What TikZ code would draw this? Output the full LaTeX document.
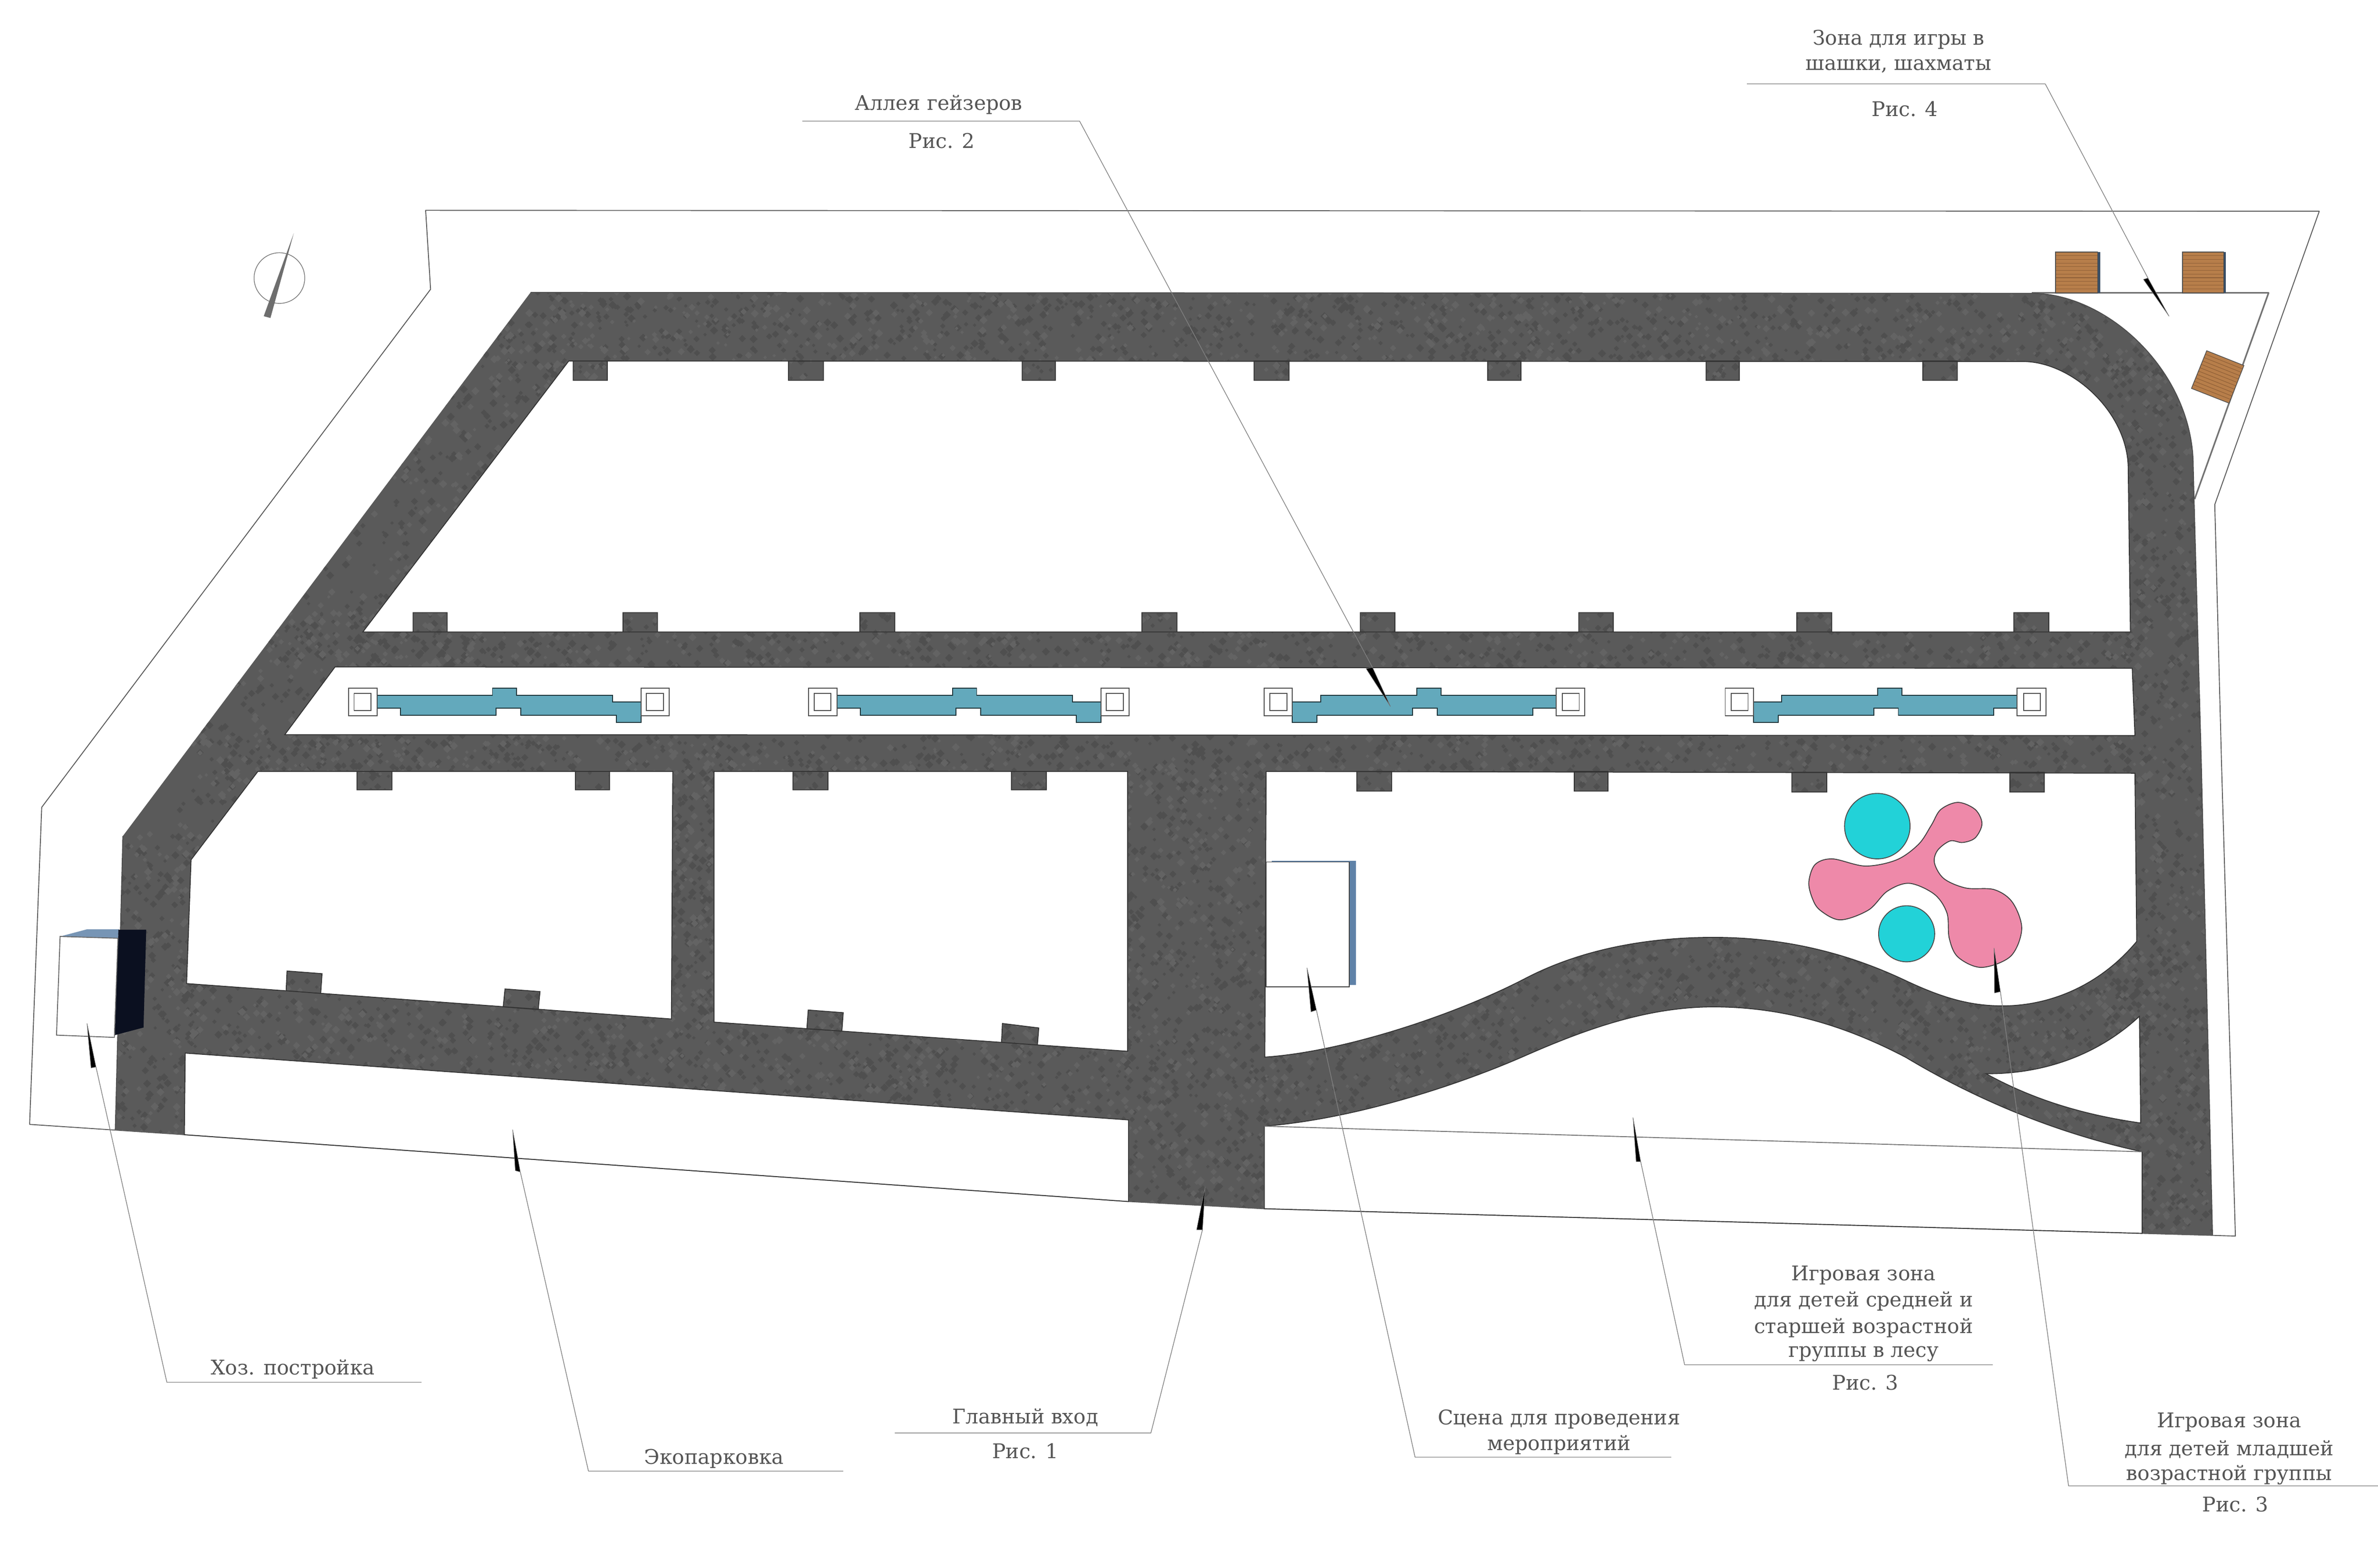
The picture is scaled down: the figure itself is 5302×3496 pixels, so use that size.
\documentclass[tikz,border=0pt]{standalone}
\usepackage{fontspec}
\setmainfont{DejaVu Serif}
\usetikzlibrary{calc}
\definecolor{asph}{HTML}{5A5A5A}
\definecolor{asphD}{HTML}{4F4F4F}
\definecolor{asphL}{HTML}{636363}
\definecolor{txtc}{HTML}{555555}
\definecolor{wood}{HTML}{B77E4A}
\definecolor{woodL}{HTML}{8E5F37}
\definecolor{water}{HTML}{63A9BC}
\definecolor{pinkz}{HTML}{EE89A9}
\definecolor{cyanz}{HTML}{22D2D8}
\definecolor{blueb}{HTML}{5F82A8}
\definecolor{shadowd}{HTML}{0B1020}
\tikzset{
  site/.style={draw=black!65,line width=2pt,line join=round},
  isl/.style={fill=white,draw=black!80,line width=2pt,even odd rule,line join=miter},
  lead/.style={draw=black!50,line width=1.5pt,line join=round},
  wedge/.style={fill=black,draw=black!55,line width=1pt,line join=round},
  lbl/.style={text=txtc,font=\fontsize{45}{58}\selectfont,align=center,inner sep=0pt,yshift=-3pt},
  lamp/.style={fill=white,draw=black!70,line width=2pt},
}
\newcommand{\woodquad}[4]{%
  \fill[wood] #1 -- #2 -- #3 -- #4 -- cycle;
  \foreach \t in {0.09,0.18,...,0.95}{
    \draw[woodL,line width=1.2pt] ($#1!\t!#4$) -- ($#2!\t!#3$);
  }
  \draw[black!70,line width=1.5pt] #1 -- #2 -- #3 -- #4 -- cycle;
}
\newcommand{\geyser}{%
  \draw[fill=water,draw=black!70!water,line width=2pt]
    (-293.5,1550) -- (-36.5,1550) -- (-36.5,1534) -- (17.5,1534) -- (17.5,1550) -- (231.5,1550)
    -- (231.5,1565) -- (294.5,1565) -- (294.5,1611) -- (239.5,1611) -- (239.5,1595) -- (26.5,1595)
    -- (26.5,1579) -- (-28.5,1579) -- (-28.5,1595) -- (-241.5,1595) -- (-241.5,1579) -- (-293.5,1579) -- cycle;
  \draw[lamp] (-357.5,1534) rectangle (-293.5,1596);
  \draw[lamp] (-345,1546.5) rectangle (-307.5,1584);
  \draw[lamp] (294.5,1534) rectangle (357.5,1596);
  \draw[lamp] (306.5,1546.5) rectangle (344.5,1584);
}
% speckled asphalt: small random diamonds, filled in batches
\newcount\blobA \newcount\blobB
\newcommand{\blobs}[5]{%
  \blobA=0 \blobB=0
  \loop\ifnum\blobA<#5\relax
    \advance\blobA by 1
    \advance\blobB by 1
    \pgfmathrandominteger\rx{#1}{#2}%
    \pgfmathrandominteger\ry{#3}{#4}%
    \pgfmathrandominteger\rr{4}{9}%
    \pgfpathmoveto{\pgfqpoint{\the\numexpr\rx-\rr\relax pt}{-\ry pt}}%
    \pgfpathlineto{\pgfqpoint{\rx pt}{-\the\numexpr\ry-\rr\relax pt}}%
    \pgfpathlineto{\pgfqpoint{\the\numexpr\rx+\rr\relax pt}{-\ry pt}}%
    \pgfpathlineto{\pgfqpoint{\rx pt}{-\the\numexpr\ry+\rr\relax pt}}%
    \pgfpathclose
    \ifnum\blobB=40 \pgfusepath{fill}\blobB=0 \fi
  \repeat
  \pgfusepath{fill}%
}
\newcommand{\allspecks}[1]{%
  \blobs{1100}{4900}{650}{850}{\numexpr 19*#1\relax}%
  \blobs{4700}{4940}{800}{2760}{\numexpr 12*#1\relax}%
  \blobs{600}{4760}{1366}{1490}{\numexpr 13*#1\relax}%
  \blobs{500}{4770}{1636}{1766}{\numexpr 13*#1\relax}%
  \blobs{2510}{2825}{1720}{2700}{\numexpr 8*#1\relax}%
  \blobs{250}{430}{1860}{2530}{\numexpr 3*#1\relax}%
  \blobs{400}{1280}{650}{1900}{\numexpr 16*#1\relax}%
  \blobs{410}{2520}{2165}{2500}{\numexpr 18*#1\relax}%
  \blobs{2820}{4780}{2090}{2570}{\numexpr 24*#1\relax}%
  \blobs{1495}{1595}{1720}{2290}{\numexpr 2*#1\relax}%
}
\begin{document}
\begin{tikzpicture}[x=1pt,y=-1pt]
\useasboundingbox (0,0) rectangle (5302,3496);
\fill[white] (0,0) rectangle (5302,3496);

% site boundary
\draw[site] (949,469) -- (960,645) -- (93,1800) -- (66,2507) -- (411,2530) -- (2516,2679) -- (2816,2695)
  -- (4775,2750) -- (4984,2756) -- (4953,1700) -- (4938,1125) -- (5171,471) -- cycle;
\draw[site,draw=black!55,line width=3.5pt] (4530,653) -- (5058,653) -- (4893,1113);

% asphalt
\begin{scope}
\clip (1183,652) -- (4530,654) .. controls (4700,654) and (4890,830) .. (4890,1040)
  -- (4892,1120) -- (4908,1700) -- (4933,2754) -- (4778,2750) -- (2816,2695) -- (2516,2679) -- (411,2530) -- (257,2519)
  -- (274,1864) -- cycle;
\fill[asph] (0,0) rectangle (5302,3496);
\pgfmathsetseed{4242}
\pgfsetfillcolor{asphD}
\allspecks{60}
\pgfsetfillcolor{asphL}
\allspecks{35}
\end{scope}
\draw[black!70,line width=2pt] (1183,652) -- (4530,654) .. controls (4700,654) and (4890,830) .. (4890,1040)
  -- (4892,1120) -- (4908,1700) -- (4933,2754) (257,2519) -- (274,1864) -- cycle;

% upper island with parking bays
\path[isl] (1268,805) -- (4510,806) .. controls (4620,806) and (4745,920) .. (4745,1045)
  -- (4747,1200) -- (4750,1409) -- (809,1409) -- cycle
  (1278,805) rectangle (1354,848) (1758,805) rectangle (1836,848) (2279,805) rectangle (2353,848)
  (2796,805) rectangle (2874,848) (3317,805) rectangle (3391,848) (3804,805) rectangle (3878,848)
  (4287,805) rectangle (4364,848)
  (921,1366) rectangle (997,1409) (1389,1366) rectangle (1466,1409) (1917,1366) rectangle (1995,1409)
  (2546,1366) rectangle (2624,1409) (3033,1366) rectangle (3110,1409) (3520,1366) rectangle (3597,1409)
  (4006,1366) rectangle (4084,1409) (4490,1366) rectangle (4568,1409);

% strip island
\path[isl] (747,1487) -- (4754,1490) -- (4760,1640) -- (635,1638) -- cycle;

% lower left island
\path[isl] (575,1720) -- (1500,1720) -- (1497,2272) -- (416,2193) -- (426,1917) -- cycle
  (796,1720) rectangle (874,1761) (1283,1720) rectangle (1359,1761)
  (638,2209) -- (715,2215) -- (718,2171) -- (640,2165) -- cycle
  (1122,2245) -- (1200,2251) -- (1204,2211) -- (1126,2205) -- cycle;

% lower middle island
\path[isl] (1592,1720) -- (2514,1720) -- (2514,2344) -- (1592,2279) -- cycle
  (1768,1720) rectangle (1846,1761) (2255,1720) rectangle (2333,1761)
  (1799,2294) -- (1877,2299) -- (1880,2258) -- (1802,2252) -- cycle
  (2233,2324) -- (2313,2330) -- (2316,2292) -- (2235,2282) -- cycle;

% lower right island
\path[isl] (2823,1720) -- (4760,1724) -- (4764,2099)
  .. controls (4680,2200) and (4560,2250) .. (4439,2242)
  .. controls (4370,2238) and (4310,2215) .. (4250,2187)
  .. controls (4130,2130) and (3990,2090) .. (3820,2090)
  .. controls (3680,2090) and (3530,2114) .. (3400,2182)
  .. controls (3250,2260) and (3000,2345) .. (2820,2357) -- cycle
  (3025,1720) rectangle (3103,1764) (3510,1720) rectangle (3585,1764)
  (3995,1722) rectangle (4073,1766) (4481,1722) rectangle (4558,1766);

% south right island
\path[isl] (2819,2511) .. controls (3020,2495) and (3250,2420) .. (3400,2354)
  .. controls (3530,2297) and (3670,2245) .. (3820,2245)
  .. controls (3990,2245) and (4130,2295) .. (4250,2358)
  .. controls (4420,2460) and (4600,2530) .. (4776,2568)
  -- (4776,2750) -- (2819,2695) -- cycle;
\draw[site,draw=black!55] (2819,2511) -- (4776,2568);

% triangle island
\path[isl] (4428,2394) .. controls (4560,2395) and (4680,2350) .. (4770,2266)
  -- (4773,2504) .. controls (4640,2485) and (4530,2450) .. (4428,2394) -- cycle;

% south left island
\path[isl] (413,2348) -- (2516,2497) -- (2516,2679) -- (411,2530) -- cycle;

% geyser alley
\begin{scope}[shift={(1134.5,0)}]\geyser\end{scope}
\begin{scope}[shift={(2160,0)}]\geyser\end{scope}
\begin{scope}[shift={(3176,0)},xscale=-1]\geyser\end{scope}
\begin{scope}[shift={(4204,0)},xscale=-1]\geyser\end{scope}

% playground
\draw[fill=pinkz,draw=black!75,line width=2pt] plot[smooth cycle,tension=.55] coordinates {
 (4306,1840) (4327,1805) (4365.5,1789) (4404,1805) (4419,1836.5) (4404,1868) (4376,1878.5) (4348,1875)
 (4320,1896) (4313,1924) (4334,1959) (4383,1980) (4446,1983.5) (4487,2012) (4507.6,2071) (4483,2132)
 (4418,2157) (4365.5,2134) (4346,2092) (4341,2036) (4313,1994) (4257,1969.5) (4208,1987) (4166,2029)
 (4103,2051) (4057.5,2029) (4040,2001) (4033,1966) (4047,1927.5) (4085.5,1915) (4159,1931) (4229,1917) (4278,1882)};
\draw[fill=cyanz,draw=black!70,line width=2pt] (4185.6,1842) circle[radius=73];
\draw[fill=cyanz,draw=black!70,line width=2pt] (4251,2082) circle[radius=62.5];

% stage building
\fill[blueb] (3008,1919) rectangle (3023,2196);
\fill[blueb] (2835,1919) rectangle (3010,1924);
\draw[fill=white,draw=black!75,line width=2pt] (2823,1922) rectangle (3008,2200);

% utility building
\fill[blueb!85!white] (134,2088) -- (194,2072) -- (265,2072) -- (263,2092) -- cycle;
\fill[shadowd] (264,2073) -- (326,2073) -- (320,2291) -- (256,2308) -- cycle;
\draw[fill=white,draw=black!60,line width=2pt] (134,2088) -- (263,2092) -- (255,2313) -- (126,2308) -- cycle;

% benches
\fill[blueb!60!black] (4677,562) rectangle (4683,653);
\fill[blueb!60!black] (4958,562) rectangle (4963,653);
\woodquad{(4583,562)}{(4677,562)}{(4677,653)}{(4583,653)}
\woodquad{(4866,562)}{(4958,562)}{(4958,653)}{(4866,653)}
\woodquad{(4920,782)}{(5003,815)}{(4970,899)}{(4886,866)}

% compass
\draw[black!55,line width=1.5pt] (623,620) circle[radius=56.5];
\fill[black!57] (655,520) -- (603,709) -- (588,705) -- cycle;

% leader anchor points
\coordinate (a1) at (214,2379); \coordinate (b1) at (372,3082); \coordinate (c1) at (940,3082);
\coordinate (a2) at (1160,2613); \coordinate (b2) at (1312,3280); \coordinate (c2) at (1880,3280);
\coordinate (a3) at (2681,2742); \coordinate (b3) at (2566,3195); \coordinate (c3) at (1995,3195);
\coordinate (a4) at (2935,2252); \coordinate (b4) at (3155,3249); \coordinate (c4) at (3726,3249);
\coordinate (a5) at (3658,2590); \coordinate (b5) at (3756,3043); \coordinate (c5) at (4443,3043);
\coordinate (a6) at (4460,2211); \coordinate (b6) at (4612,3313); \coordinate (c6) at (5302,3313);
\coordinate (a7) at (4789,620);  \coordinate (b7) at (4560,187);  \coordinate (c7) at (3895,187);
\coordinate (a8) at (3060,1488); \coordinate (b8) at (2407,270);  \coordinate (c8) at (1789,270);
\foreach \n in {1,...,8}{ \draw[lead] (a\n) -- (b\n) -- (c\n); }

% pointer wedges
\fill[wedge] (194,2282) -- (203,2381) -- (a1) -- cycle;
\fill[wedge] (1143,2519) -- (1149,2610) -- (a2) -- cycle;
\fill[wedge] (2687,2646) -- (2668,2742) -- (a3) -- cycle;
\fill[wedge] (2914,2158) -- (2923,2256) -- (a4) -- cycle;
\fill[wedge] (3641,2492) -- (3648,2590) -- (a5) -- cycle;
\fill[wedge] (4446,2114) -- (4447,2214) -- (a6) -- cycle;
\fill[wedge] (4836,705) -- (4779,623) -- (a7) -- cycle;
\fill[wedge] (3100,1575) -- (3046,1491) -- (a8) -- cycle;

% labels
\node[lbl] (t1a) at (4233,85) {Зона для игры в};
\node[lbl] (t1b) at (4233,145) {шашки, шахматы};
\node[lbl] (t1c) at (4247,240) {Рис. 4};
\node[lbl] (t2a) at (2093,230) {Аллея гейзеров};
\node[lbl] (t2b) at (2100,311) {Рис. 2};
\node[lbl] (t3)  at (653,3050) {Хоз. постройка};
\node[lbl] (t4)  at (1592,3249) {Экопарковка};
\node[lbl] (t5a) at (2286,3158) {Главный вход};
\node[lbl] (t5b) at (2286,3232) {Рис. 1};
\node[lbl] (t6a) at (3476,3161) {Сцена для проведения};
\node[lbl] (t6b) at (3476,3219) {мероприятий};
\node[lbl] (t7a) at (4155,2840) {Игровая зона};
\node[lbl] (t7b) at (4155,2898) {для детей средней и};
\node[lbl] (t7c) at (4155,2958) {старшей возрастной};
\node[lbl] (t7d) at (4155,3016) {группы в лесу};
\node[lbl] (t7e) at (4159,3080) {Рис. 3};
\node[lbl] (t8a) at (4970,3168) {Игровая зона};
\node[lbl] (t8b) at (4970,3229) {для детей младшей};
\node[lbl] (t8c) at (4970,3286) {возрастной группы};
\node[lbl] (t8d) at (4984,3351) {Рис. 3};
\end{tikzpicture}
\end{document}
